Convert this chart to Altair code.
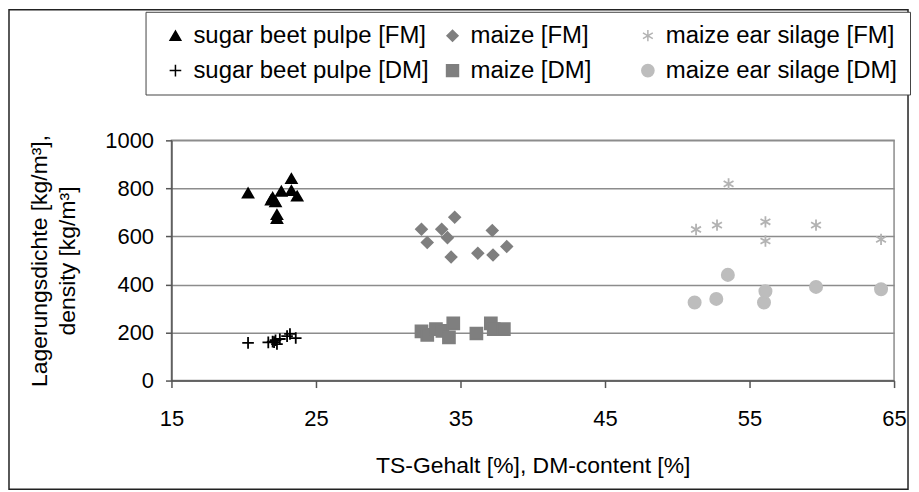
import altair as alt
import pandas as pd

series_names = ["sugar beet pulpe [FM]", "maize [FM]", "maize ear silage [FM]",
                "sugar beet pulpe [DM]", "maize [DM]", "maize ear silage [DM]"]
series_colors = ["#000000", "#7f7f7f", "#b3b3b3", "#000000", "#7f7f7f", "#bdbdbd"]
series_shapes = ["triangle-up", "diamond",
                 "M0,-1L0,1M-0.87,-0.5L0.87,0.5M-0.87,0.5L0.87,-0.5",
                 "M-1,0L1,0M0,-1L0,1", "square", "circle"]
series_sizes = [115, 150, 144, 169, 95, 95]

sb_fm_x = [20.3, 21.9, 22.0, 22.2, 22.6, 23.3, 23.3, 23.7, 22.3, 22.3]
sb_fm_y = [781, 752, 762, 745, 788, 841, 791, 768, 691, 675]
sb_dm_x = [20.3, 21.7, 22.0, 22.3, 22.2, 22.5, 23.0, 23.2, 23.6, 22.1]
sb_dm_y = [157, 159, 162, 152, 168, 173, 185, 194, 177, 160]
mz_fm_x = [32.3, 32.7, 33.7, 34.1, 34.6, 34.35, 36.2, 37.2, 37.25, 38.2]
mz_fm_y = [630, 575, 630, 595, 680, 514, 530, 625, 523, 558]
mz_dm_x = [32.3, 32.7, 33.3, 33.75, 34.2, 34.5, 36.1, 37.1, 37.3, 38.0]
mz_dm_y = [205, 190, 214, 207, 180, 238, 196, 238, 214, 214]
mes_fm_x = [51.3, 52.75, 53.55, 56.1, 56.1, 59.6, 64.1]
mes_fm_y = [629, 647, 819, 661, 581, 647, 588]
mes_dm_x = [51.2, 52.7, 53.5, 56.0, 56.1, 59.6, 64.1]
mes_dm_y = [325, 340, 440, 325, 372, 390, 380]

x_ticks = [15, 25, 35, 45, 55, 65]
y_ticks = [0, 200, 400, 600, 800, 1000]

groups = [
    (series_names[0], sb_fm_x, sb_fm_y),
    (series_names[1], mz_fm_x, mz_fm_y),
    (series_names[2], mes_fm_x, mes_fm_y),
    (series_names[3], sb_dm_x, sb_dm_y),
    (series_names[4], mz_dm_x, mz_dm_y),
    (series_names[5], mes_dm_x, mes_dm_y),
]
rows = []
for name, xs, ys in groups:
    for xv, yv in zip(xs, ys):
        rows.append({"series": name, "ts": xv, "density": yv})
df = pd.DataFrame(rows)

FONT = "Liberation Sans"

col_scale = alt.Scale(domain=series_names, range=series_colors)
shape_scale = alt.Scale(domain=series_names, range=series_shapes)
size_scale = alt.Scale(domain=series_names, range=series_sizes)

pad_expr = ("indexof(datum.label,'maize [')==0 ? datum.label + "
            "'\u00a0\u00a0\u00a0\u00a0\u00a0\u200b' : datum.label")

points = alt.Chart(df).mark_point(filled=True, strokeWidth=1.8, opacity=1).encode(
    x=alt.X("ts:Q", scale=alt.Scale(domain=[15, 65], nice=False),
            axis=alt.Axis(values=x_ticks, title="TS-Gehalt [%], DM-content [%]",
                          grid=False, tickSize=7, labelPadding=21, titlePadding=25,
                          labelFlush=False)),
    y=alt.Y("density:Q", scale=alt.Scale(domain=[0, 1000], nice=False),
            axis=alt.Axis(values=y_ticks, format="d",
                          title=["Lagerungsdichte [kg/m³],", "density [kg/m³]"],
                          grid=True, tickSize=6, labelPadding=12, titlePadding=25,
                          titleLineHeight=28, labelFlush=False)),
    color=alt.Color("series:N", scale=col_scale,
                    legend=alt.Legend(title="\u00a0", titleOrient="left", titlePadding=6,
                                      columns=3, orient="none", legendX=-26, legendY=-129,
                                      direction="horizontal",
                                      symbolSize=50, labelOffset=6, rowPadding=11,
                                      columnPadding=11, padding=12,
                                      strokeColor="#444444", fillColor="white",
                                      labelFont=FONT, labelFontSize=24, labelColor="black",
                                      labelLimit=500,
                                      labelExpr=pad_expr)),
    stroke=alt.Stroke("series:N", scale=col_scale),
    shape=alt.Shape("series:N", scale=shape_scale),
    size=alt.Size("series:N", scale=size_scale, legend=None),
)

frame = alt.Chart(pd.DataFrame({"f": [0]})).mark_rect(
    fill="transparent", stroke="#222222", strokeWidth=1.5
).encode(x=alt.value(-163), x2=alt.value(739), y=alt.value(-131), y2=alt.value(350))

chart = alt.layer(frame, points).properties(
    width=725, height=241, padding=0, background="white"
).configure_view(
    stroke="#8c8c8c", strokeWidth=1.5
).configure_axis(
    labelFont=FONT, labelFontSize=22, labelColor="black",
    titleFont=FONT, titleFontSize=23, titleFontWeight="normal", titleColor="black",
    domainColor="#555555", domainWidth=1.5, tickColor="#555555", tickWidth=1.5,
    gridColor="#8c8c8c", gridWidth=1.5,
)

chart.save("out.html", embed_options={"renderer": "svg", "actions": False})
